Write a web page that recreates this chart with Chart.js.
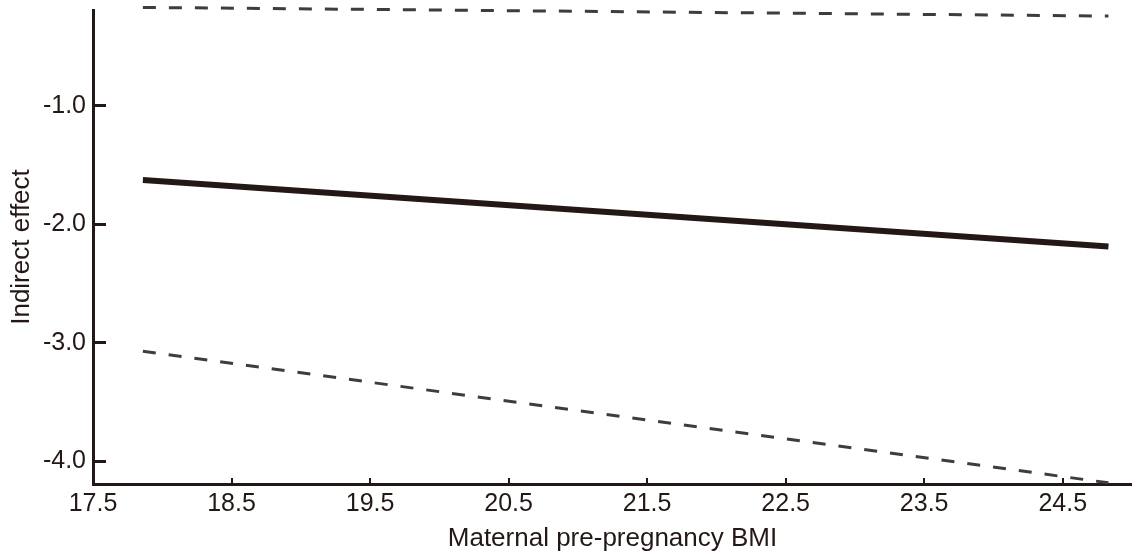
<!DOCTYPE html>
<html lang="en">
<head>
  <meta charset="UTF-8">
  <title>Indirect effect vs maternal BMI</title>
  <script src="https://cdn.jsdelivr.net/npm/chart.js"></script>
  <style>
    html, body {
      margin: 0;
      padding: 0;
      background: #ffffff;
    }
    #wrap {
      width: 1132px;
      height: 560px;
    }
  </style>
</head>
<body>
  <div id="wrap">
    <canvas id="chart" width="1132" height="560"></canvas>
  </div>

  <script>
    // Values
    const bmi = [17.86, 24.83];
    const effect = [-1.624, -2.186];
    const upperCI = [-0.168, -0.241];
    const lowerCI = [-3.07, -4.18];
    const xTicks = [17.5, 18.5, 19.5, 20.5, 21.5, 22.5, 23.5, 24.5];
    const yTicks = [-4.0, -3.0, -2.0, -1.0];

    const ink = '#231815';
    const fontFamily = "'Liberation Sans', Arial, sans-serif";

    const toPoints = (xs, ys) => xs.map((x, i) => ({ x: x, y: ys[i] }));

    const chart = new Chart(document.getElementById('chart'), {
      type: 'line',
      data: {
        datasets: [
          {
            label: 'Upper CI',
            data: toPoints(bmi, upperCI),
            borderColor: '#3d3d3d',
            borderWidth: 3,
            borderDash: [13, 13],
            borderCapStyle: 'butt',
            pointRadius: 0,
            clip: false
          },
          {
            label: 'Indirect effect',
            data: toPoints(bmi, effect),
            borderColor: ink,
            borderWidth: 6,
            borderCapStyle: 'butt',
            pointRadius: 0,
            clip: false
          },
          {
            label: 'Lower CI',
            data: toPoints(bmi, lowerCI),
            borderColor: '#3d3d3d',
            borderWidth: 3,
            borderDash: [13, 13],
            borderCapStyle: 'butt',
            pointRadius: 0,
            clip: false
          }
        ]
      },
      options: {
        responsive: false,
        animation: false,
        layout: {
          padding: { top: 10, right: 0, left: 0, bottom: 0 }
        },
        plugins: {
          legend: { display: false },
          tooltip: { enabled: false }
        },
        scales: {
          x: {
            type: 'linear',
            min: 17.5,
            max: 25.0,
            afterBuildTicks: scale => {
              scale.ticks = xTicks.map(v => ({ value: v }));
            },
            afterFit: scale => {
              scale.height = 76;
              scale.paddingLeft = 0;
              scale.paddingRight = 0;
            },
            border: { display: true, color: ink, width: 3 },
            grid: {
              drawOnChartArea: false,
              drawTicks: true,
              tickLength: -6,
              color: ink,
              lineWidth: 2
            },
            ticks: {
              padding: 11,
              color: ink,
              font: { family: fontFamily, size: 25 },
              maxRotation: 0,
              callback: v => Number(v).toFixed(1)
            },
            title: {
              display: true,
              text: 'Maternal pre-pregnancy BMI',
              color: ink,
              font: { family: fontFamily, size: 26 },
              padding: { top: 0, bottom: 6 }
            }
          },
          y: {
            type: 'linear',
            min: -4.19,
            max: -0.19,
            afterBuildTicks: scale => {
              scale.ticks = yTicks.map(v => ({ value: v }));
            },
            afterFit: scale => {
              scale.width = 93;
              scale.paddingTop = 0;
              scale.paddingBottom = 0;
            },
            border: { display: true, color: ink, width: 3 },
            grid: {
              drawOnChartArea: false,
              drawTicks: true,
              tickLength: -13,
              color: ink,
              lineWidth: 3
            },
            ticks: {
              padding: 20,
              color: ink,
              font: { family: fontFamily, size: 25 },
              callback: v => Number(v).toFixed(1)
            },
            title: {
              display: true,
              text: 'Indirect effect',
              color: ink,
              font: { family: fontFamily, size: 26 },
              padding: { top: 6, bottom: 0 }
            }
          }
        }
      }
    });
  </script>
</body>
</html>
